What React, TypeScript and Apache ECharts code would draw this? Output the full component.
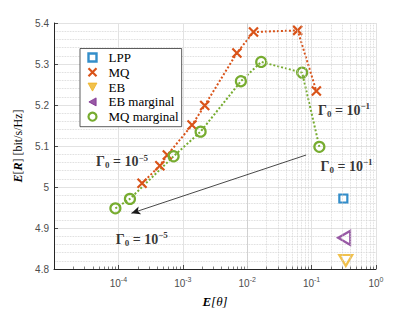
import React, { useEffect, useRef } from 'react';
import * as echarts from 'echarts';

// ---- data ----
const MQ_X = [2.33e-4, 4.4e-4, 5.75e-4, 1.39e-3, 2.19e-3, 6.92e-3, 0.01253, 0.0607, 0.1186];
const MQ_Y = [5.009, 5.052, 5.078, 5.151, 5.199, 5.327, 5.378, 5.382, 5.234];
const MQM_X = [8.98e-5, 1.51e-4, 7.2e-4, 1.89e-3, 7.98e-3, 0.0165, 0.0713, 0.132];
const MQM_Y = [4.948, 4.971, 5.075, 5.135, 5.258, 5.305, 5.279, 5.098];
const LPP_PT = [0.311, 4.972];
const EB_PT = [0.339, 4.821];
const EBM_PT = [0.32, 4.876];

const ARROW_FROM = [0.0822, 5.078];
const ARROW_TO = [1.59e-4, 4.936];

const ANNOT_EXP = ['−5', '−5', '−1', '−1'];
const ANNOT_X = [1.14e-4, 2.31e-4, 0.319, 0.349];
const ANNOT_Y = [5.061, 4.872, 5.187, 5.051];

const X_MIN = 1e-5;
const X_MAX = 1;
const Y_MIN = 4.8;
const Y_MAX = 5.4;
const Y_STEP = 0.1;
const LEGEND_NAMES = ['LPP', 'MQ', 'EB', 'EB marginal', 'MQ marginal'];

// ---- styling ----
const BLUE = '#0072BD';
const ORANGE = '#D95319';
const YELLOW = '#EDB120';
const PURPLE = '#7E2F8E';
const GREEN = '#77AC30';
const AXIS = '#262626';
const TICKTXT = '#4d4d4d';
const SANS = 'Liberation Sans, Arial, sans-serif';
const SERIF = 'Liberation Serif, Times New Roman, serif';
const X_SHAPE = 'path://M0,0L10,10M10,0L0,10';
const SQUARE = 'path://M0,0L10,0L10,10L0,10Z';
const TRI_DOWN = 'path://M0,0L10,0L5,9Z';
const TRI_LEFT = 'path://M9,0L9,10L0,5Z';

const minorX: number[] = [];
for (let e = -5; e < 0; e++) {
  for (let m = 2; m <= 9; m++) minorX.push(m * Math.pow(10, e));
}

function buildOption() {
  const annotData = ANNOT_X.map((x, i) => ({
    value: [x, ANNOT_Y[i]],
    label: {
      formatter: `{t|Γ}{sub|0}{t| = 10}{sup|${ANNOT_EXP[i]}}`,
    },
  }));

  return {
    animation: false,
    backgroundColor: '#ffffff',
    grid: { left: 54, right: 39, top: 23, bottom: 36, containLabel: false },
    legend: {
      orient: 'vertical',
      left: 80,
      top: 48.5,
      itemWidth: 22,
      itemHeight: 8,
      itemGap: 0.8,
      padding: [2, 3, 3, 6],
      backgroundColor: '#ffffff',
      borderColor: '#333333',
      borderWidth: 0.8,
      borderRadius: 0,
      selectedMode: false,
      textStyle: { fontFamily: SERIF, fontSize: 13, color: '#000', lineHeight: 14 },
      data: [
        { name: LEGEND_NAMES[0], icon: SQUARE, itemStyle: { color: '#ffffff', borderColor: BLUE, borderWidth: 2.4 } },
        { name: LEGEND_NAMES[1], icon: X_SHAPE, itemStyle: { color: 'none', borderColor: ORANGE, borderWidth: 2.2 } },
        { name: LEGEND_NAMES[2], icon: TRI_DOWN, itemStyle: { color: YELLOW, borderColor: YELLOW, borderWidth: 1 } },
        { name: LEGEND_NAMES[3], icon: TRI_LEFT, itemStyle: { color: PURPLE, borderColor: PURPLE, borderWidth: 1 } },
        { name: LEGEND_NAMES[4], icon: 'circle', itemStyle: { color: 'none', borderColor: GREEN, borderWidth: 2.2 } },
      ],
    },
    xAxis: {
      type: 'log',
      logBase: 10,
      min: X_MIN,
      max: X_MAX,
      name: '{b|E}[θ]',
      nameLocation: 'middle',
      nameGap: 26,
      nameTextStyle: {
        fontFamily: SERIF,
        fontSize: 13,
        fontStyle: 'italic',
        color: '#000',
        rich: { b: { fontFamily: SERIF, fontSize: 13, fontWeight: 'bold', fontStyle: 'italic', color: '#000' } },
      },
      axisLine: { show: true, onZero: false, lineStyle: { color: AXIS, width: 1 } },
      axisTick: { show: true, inside: true, length: 4, lineStyle: { color: AXIS, width: 0.8 } },
      axisLabel: {
        margin: 7,
        color: TICKTXT,
        fontFamily: SANS,
        fontSize: 10,
        formatter: (v: number) => {
          const e = Math.round(Math.log10(v));
          if (e === -5) return '';
          return `{b|10}{s|${e}}`;
        },
        rich: {
          b: { fontFamily: SANS, fontSize: 10, color: TICKTXT },
          s: { fontFamily: SANS, fontSize: 7, color: TICKTXT, verticalAlign: 'top', padding: [0, 0, 7, 0] },
        },
      },
      splitLine: { show: true, lineStyle: { color: '#e2e2e2', width: 1 } },
    },
    yAxis: {
      type: 'value',
      min: Y_MIN,
      max: Y_MAX,
      interval: Y_STEP,
      name: '{b|E}[{b|R}] [bit/s/Hz]',
      nameLocation: 'middle',
      nameGap: 29,
      nameRotate: 90,
      nameTextStyle: {
        fontFamily: SERIF,
        fontSize: 12,
        color: '#000',
        rich: { b: { fontFamily: SERIF, fontSize: 12, fontWeight: 'bold', fontStyle: 'italic', color: '#000' } },
      },
      axisLine: { show: true, onZero: false, lineStyle: { color: AXIS, width: 1 } },
      axisTick: { show: true, inside: true, length: 4, lineStyle: { color: AXIS, width: 0.8 } },
      axisLabel: {
        margin: 5,
        color: TICKTXT,
        fontFamily: SANS,
        fontSize: 10,
        formatter: (v: number) => String(parseFloat(v.toFixed(1))),
      },
      splitLine: { show: true, lineStyle: { color: '#e2e2e2', width: 1 } },
      minorTick: { show: false, splitNumber: 5 },
      minorSplitLine: { show: true, lineStyle: { color: '#cfcfcf', width: 0.8, type: 'dotted' } },
    },
    series: [
      {
        name: 'grid-minor',
        type: 'line',
        data: [[1e-3, 5]],
        symbol: 'none',
        lineStyle: { opacity: 0 },
        silent: true,
        z: 1,
        markLine: {
          silent: true,
          animation: false,
          symbol: ['none', 'none'],
          label: { show: false },
          lineStyle: { type: 'dotted', color: '#cfcfcf', width: 0.8 },
          data: minorX.map((v) => ({ xAxis: v })),
        },
      },
      {
        name: 'tick-minor',
        type: 'line',
        data: [[1e-3, 5]],
        symbol: 'none',
        lineStyle: { opacity: 0 },
        silent: true,
        z: 2,
        markLine: {
          silent: true,
          animation: false,
          symbol: ['none', 'none'],
          label: { show: false },
          lineStyle: { type: 'solid', color: AXIS, width: 0.6 },
          data: minorX.map((v) => [{ coord: [v, Y_MIN] }, { coord: [v, Y_MIN + 0.006] }]),
        },
      },
      {
        name: 'LPP',
        type: 'scatter',
        data: [LPP_PT],
        symbol: 'rect',
        symbolSize: 8,
        itemStyle: { color: 'none', borderColor: BLUE, borderWidth: 2.2 },
        z: 4,
      },
      {
        name: 'MQ',
        type: 'line',
        data: MQ_X.map((x, i) => [x, MQ_Y[i]]),
        symbol: X_SHAPE,
        symbolSize: 9,
        showAllSymbol: true,
        lineStyle: { color: ORANGE, width: 2, type: 'dotted' },
        itemStyle: { color: 'none', borderColor: ORANGE, borderWidth: 2.2 },
        z: 4,
      },
      {
        name: 'EB',
        type: 'scatter',
        data: [EB_PT],
        symbol: 'triangle',
        symbolRotate: 180,
        symbolSize: [13, 11],
        itemStyle: { color: 'none', borderColor: YELLOW, borderWidth: 2.2 },
        z: 4,
      },
      {
        name: 'EB marginal',
        type: 'scatter',
        data: [EBM_PT],
        symbol: 'triangle',
        symbolRotate: 90,
        symbolSize: [14, 12],
        itemStyle: { color: 'none', borderColor: PURPLE, borderWidth: 2.2 },
        z: 4,
      },
      {
        name: 'MQ marginal',
        type: 'line',
        data: MQM_X.map((x, i) => [x, MQM_Y[i]]),
        symbol: 'circle',
        symbolSize: 10,
        showAllSymbol: true,
        lineStyle: { color: GREEN, width: 2, type: 'dotted' },
        itemStyle: { color: 'none', borderColor: GREEN, borderWidth: 2.2 },
        z: 4,
      },
      {
        name: 'arrow',
        type: 'line',
        data: [[1e-3, 5]],
        symbol: 'none',
        lineStyle: { opacity: 0 },
        silent: true,
        z: 5,
        markLine: {
          silent: true,
          animation: false,
          symbol: ['none', 'arrow'],
          symbolSize: [6, 9],
          label: { show: false },
          lineStyle: { type: 'solid', color: '#1a1a1a', width: 0.8 },
          data: [[{ coord: ARROW_FROM }, { coord: ARROW_TO }]],
        },
      },
      {
        name: 'annotations',
        type: 'scatter',
        data: annotData,
        symbolSize: 1,
        itemStyle: { color: 'rgba(0,0,0,0)' },
        silent: true,
        z: 6,
        label: {
          show: true,
          position: 'inside',
          color: '#000',
          fontSize: 14,
          fontFamily: SERIF,
          fontWeight: 'bold',
          rich: {
            t: { fontFamily: SERIF, fontSize: 14, color: '#000', fontWeight: 'bold' },
            sub: { fontFamily: SERIF, fontSize: 9, color: '#000', fontWeight: 'bold', padding: [7, 0, 0, 0] },
            sup: { fontFamily: SERIF, fontSize: 9, color: '#000', fontWeight: 'bold', padding: [0, 0, 8, 0] },
          },
        },
      },
    ],
  };
}

export default function App() {
  const ref = useRef<HTMLDivElement>(null);
  useEffect(() => {
    if (!ref.current) return;
    const chart = echarts.init(ref.current, null, { renderer: 'svg' });
    chart.setOption(buildOption() as any);
    return () => {
      chart.dispose();
    };
  }, []);
  return (
    <div
      ref={ref}
      style={{ position: 'absolute', left: 0, top: 0, width: 415, height: 313, background: '#fff' }}
    />
  );
}
